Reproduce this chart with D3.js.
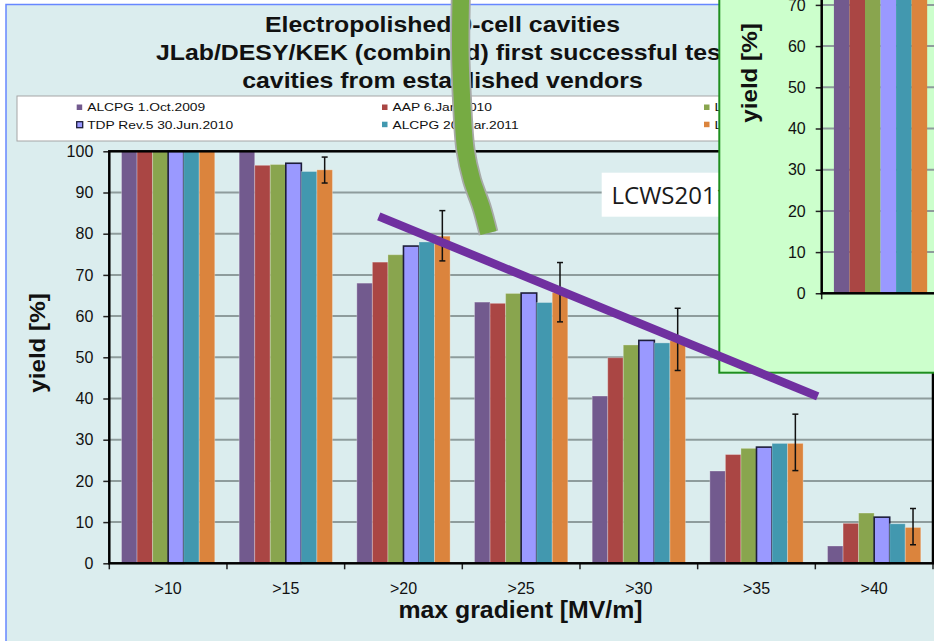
<!DOCTYPE html>
<html>
<head>
<meta charset="utf-8">
<script src="https://cdn.jsdelivr.net/npm/d3@7"></script>
<style>
  html, body { margin: 0; padding: 0; background: #fff; overflow: hidden; }
  svg { display: block; }
</style>
</head>
<body>
<script>
// ---- data ----
const categories = [">10", ">15", ">20", ">25", ">30", ">35", ">40"];
const seriesNames = [
  "ALCPG 1.Oct.2009",
  "AAP 6.Jan.2010",
  "LCWS10 26.Mar.2010",
  "TDP Rev.5 30.Jun.2010",
  "ALCPG 20.Mar.2011",
  "LCWS11 26.Sep.2011"
];
const yieldALCPG2009 = [100, 100.0, 68.0, 63.4, 40.6, 22.4, 4.2];
const yieldAAP2010   = [100, 96.6, 73.1, 63.1, 49.9, 26.4, 9.7];
const yieldLCWS2010  = [100, 96.8, 74.9, 65.5, 53.0, 27.9, 12.2];
const yieldTDP2010   = [100, 97.1, 77.0, 65.6, 54.1, 28.2, 11.2];
const yieldALCPG2011 = [100, 95.1, 78.0, 63.3, 53.5, 29.1, 9.6];
const yieldLCWS2011  = [100, 95.5, 79.4, 65.7, 54.0, 29.1, 8.7];
// error range of the latest data set (per category, null = none)
const errLowLCWS2011  = [null, 92.3, 73.4, 58.6, 46.8, 22.5, 4.5];
const errHighLCWS2011 = [null, 98.6, 85.6, 73.0, 61.9, 36.2, 13.3];
const yTicks = [0, 10, 20, 30, 40, 50, 60, 70, 80, 90, 100];
// overall trend drawn over the bars: category, fraction across that category, yield
const trendStart = { category: ">20", frac: 0.29, value: 84.2 };
const trendEnd   = { category: ">40", frac: 0.02, value: 40.5 };

const seriesValues = [yieldALCPG2009, yieldAAP2010, yieldLCWS2010, yieldTDP2010, yieldALCPG2011, yieldLCWS2011];
const seriesColors = ["#725a8e", "#aa4644", "#89a54e", "#9a99ff", "#4298af", "#db843d"];

// ---- layout ----
const W = 934, H = 641;
const FONT = "'Liberation Sans', Arial, Helvetica, sans-serif";
const plot = { left: 109.3, right: 933, top: 151.3, bottom: 563.3 };
const bg = "#dbedee";

const svg = d3.select("body").append("svg").attr("width", W).attr("height", H);

// slide frame
svg.append("rect")
  .attr("x", 6).attr("y", 4.5).attr("width", W).attr("height", H)
  .attr("fill", bg).attr("stroke", "#6787ff").attr("stroke-width", 1.5);

const x = d3.scaleBand().domain(categories).range([plot.left, plot.right]);
const xs = d3.scaleBand().domain(d3.range(seriesNames.length))
  .range([0, x.bandwidth()]).paddingInner(0).paddingOuter(0.785);
const y = d3.scaleLinear().domain([0, 100]).range([plot.bottom, plot.top]);

// text helper with a horizontal stretch factor
function stretchedText(parent, str, tx, ty, opts) {
  const g = parent.append("g")
    .attr("transform", `translate(${tx},${ty}) ${opts.rotate ? "rotate(" + opts.rotate + ")" : ""} scale(${opts.sx || 1},1)`);
  return g.append("text")
    .attr("x", 0).attr("y", 0)
    .attr("text-anchor", opts.anchor || "start")
    .attr("font-family", opts.family || FONT)
    .attr("font-size", opts.size)
    .attr("font-weight", opts.weight || "normal")
    .attr("fill", opts.fill || "#111")
    .text(str);
}

// draws gridlines, bars and axes into g
function drawChart(g, opts) {
  // gridlines
  g.append("g").selectAll("line")
    .data(yTicks.filter(t => t > 0 && t < 100))
    .join("line")
    .attr("x1", plot.left).attr("x2", plot.right)
    .attr("y1", d => y(d)).attr("y2", d => y(d))
    .attr("stroke", "#8e9c9c").attr("stroke-width", 2);

  // bars
  seriesValues.forEach((vals, s) => {
    const isTDP = s === 3;
    g.append("g").selectAll("rect")
      .data(vals.map((v, i) => ({ v, c: categories[i] })))
      .join("rect")
      .attr("x", d => x(d.c) + xs(s))
      .attr("y", d => y(d.v))
      .attr("width", xs.bandwidth())
      .attr("height", d => y(0) - y(d.v))
      .attr("fill", seriesColors[s])
      .attr("stroke", isTDP && opts.outlineTDP ? "#1d1d3a" : (opts.softEdge ? "rgba(255,255,255,0.28)" : "none"))
      .attr("stroke-width", isTDP && opts.outlineTDP ? 1.6 : 1);
  });

  // y axis
  const ya = g.append("g").attr("transform", `translate(${plot.left},0)`)
    .call(d3.axisLeft(y).tickValues(opts.ticks).tickSize(6).tickPadding(10));
  ya.select(".domain").remove();
  ya.selectAll(".tick line").attr("stroke", "#222").attr("stroke-width", 1.5);
  ya.selectAll(".tick text").attr("font-family", FONT).attr("font-size", 16).attr("fill", "#111");

  // x axis labels
  const xa = g.append("g").attr("transform", `translate(0,${plot.bottom})`)
    .call(d3.axisBottom(x).tickValues(opts.labels).tickSize(0).tickPadding(19.3));
  xa.select(".domain").remove();
  xa.selectAll(".tick text").attr("font-family", FONT).attr("font-size", 16).attr("fill", "#111");

  // category boundary ticks
  g.append("g").selectAll("line")
    .data(categories.map(c => x(c)).concat([plot.right]))
    .join("line")
    .attr("x1", d => d).attr("x2", d => d)
    .attr("y1", plot.bottom).attr("y2", plot.bottom + 6)
    .attr("stroke", "#222").attr("stroke-width", 1.5);

  // plot frame
  g.append("rect")
    .attr("x", plot.left).attr("y", plot.top)
    .attr("width", plot.right - plot.left).attr("height", plot.bottom - plot.top)
    .attr("fill", "none").attr("stroke", "#000").attr("stroke-width", 2.5);

  // y title
  stretchedText(g, "yield [%]", 45, 343, { rotate: -90, sx: 1.1, size: 22, weight: "bold", anchor: "middle", fill: "#111" });
}

// ---- main chart ----
const main = svg.append("g");
drawChart(main, { outlineTDP: true, softEdge: true, ticks: yTicks, labels: categories });

// error bars on the latest data set
const eb = main.append("g");
categories.forEach((c, i) => {
  if (errLowLCWS2011[i] == null) return;
  const cx = x(c) + xs(5) + xs.bandwidth() / 2;
  const y1 = y(errLowLCWS2011[i]), y2 = y(errHighLCWS2011[i]);
  eb.append("line").attr("x1", cx).attr("x2", cx).attr("y1", y1).attr("y2", y2)
    .attr("stroke", "#111").attr("stroke-width", 1.5);
  [y1, y2].forEach(yy => eb.append("line")
    .attr("x1", cx - 3).attr("x2", cx + 3).attr("y1", yy).attr("y2", yy)
    .attr("stroke", "#111").attr("stroke-width", 1.5));
});

// x title
stretchedText(svg, "max gradient [MV/m]", 520.5, 618, { sx: 1.08, size: 23, weight: "bold", anchor: "middle", fill: "#111" });

// ---- legend ----
const legend = svg.append("g");
legend.append("rect").attr("x", 17).attr("y", 96).attr("width", 940).attr("height", 45)
  .attr("fill", "#fff").attr("stroke", "#a6a6a6").attr("stroke-width", 1);
const legCols = [76.7, 382, 704];
const legRows = [111.3, 128.5];
seriesNames.forEach((name, s) => {
  const col = s % 3, row = Math.floor(s / 3);
  const mx = legCols[col], by = legRows[row];
  legend.append("rect")
    .attr("x", mx).attr("y", by - 6.8)
    .attr("width", s === 3 ? 6 : 5.5).attr("height", s === 3 ? 6 : 5.5)
    .attr("fill", seriesColors[s])
    .attr("stroke", s === 3 ? "#1d1d3a" : "none").attr("stroke-width", 1.3);
  stretchedText(legend, name, mx + 10.5, by, { sx: 1.2, size: 11.5, fill: "#111" });
});

// ---- title ----
const titleLines = [
  "Electropolished 9-cell cavities",
  "JLab/DESY/KEK (combined) first successful test",
  "cavities from established vendors"
];
const titleBaselines = [31.7, 59.6, 87.5];
titleLines.forEach((t, i) =>
  stretchedText(svg, t, 442.5, titleBaselines[i], { sx: 1.13, size: 22, weight: "bold", anchor: "middle", fill: "#111" }));

// ---- meeting label box ----
svg.append("rect").attr("x", 601.7).attr("y", 172.7).attr("width", 150).attr("height", 44).attr("fill", "#fff");
svg.append("text").attr("x", 611.5).attr("y", 204.3)
  .attr("font-family", "'Open Sans', 'Noto Sans', sans-serif").attr("font-size", 24)
  .attr("fill", "#1a1a1a").text("LCWS2011");

// ---- inset: earlier version of the same chart ----
const inset = { x: 719.3, y: -10, w: 240, h: 382.7 };
const insetShift = [712.4, -270];
svg.append("clipPath").attr("id", "insetClip")
  .append("rect").attr("x", inset.x).attr("y", inset.y).attr("width", inset.w).attr("height", inset.h);
const insetOuter = svg.append("g");
insetOuter.append("rect").attr("x", inset.x).attr("y", inset.y).attr("width", inset.w).attr("height", inset.h)
  .attr("fill", "#ccffcc");
const insetInner = insetOuter.append("g").attr("clip-path", "url(#insetClip)")
  .append("g").attr("transform", `translate(${insetShift[0]},${insetShift[1]})`);
drawChart(insetInner, {
  outlineTDP: false, softEdge: false,
  ticks: yTicks.filter(t => y(t) + insetShift[1] > 0),
  labels: categories.filter(c => x(c) + x.bandwidth() + insetShift[0] < W)
});
insetOuter.append("rect").attr("x", inset.x).attr("y", inset.y).attr("width", inset.w).attr("height", inset.h)
  .attr("fill", "none").attr("stroke", "#1f8f1f").attr("stroke-width", 2);

// ---- trend line ----
svg.append("line")
  .attr("x1", x(trendStart.category) + trendStart.frac * x.bandwidth())
  .attr("y1", y(trendStart.value))
  .attr("x2", x(trendEnd.category) + trendEnd.frac * x.bandwidth())
  .attr("y2", y(trendEnd.value))
  .attr("stroke", "#7030a0").attr("stroke-width", 8.5).attr("stroke-linecap", "butt");

// ---- curved arrow tail ----
const arrowPts = [[461, -12], [460.3, 50], [462, 100], [465.5, 150], [472, 180], [481.5, 207], [488.5, 233]];
const arrowLine = d3.line().curve(d3.curveCatmullRom.alpha(0.5));
svg.append("path").attr("d", arrowLine(arrowPts))
  .attr("fill", "none").attr("stroke", "#a8aaa8").attr("stroke-width", 20).attr("stroke-linecap", "butt");
svg.append("path").attr("d", arrowLine(arrowPts))
  .attr("fill", "none").attr("stroke", "#76ab43").attr("stroke-width", 16.5).attr("stroke-linecap", "butt");
</script>
</body>
</html>
